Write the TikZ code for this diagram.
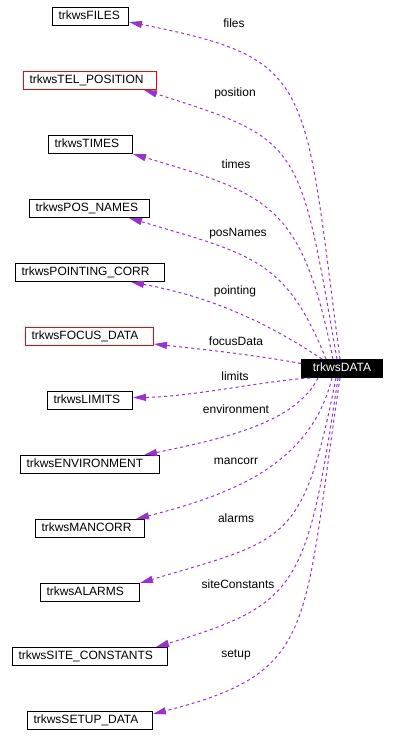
\documentclass[tikz,border=0pt]{standalone}
\usepackage{fontspec}
\setmainfont{Liberation Sans}
\usetikzlibrary{arrows.meta}
\definecolor{edgecol}{RGB}{153,50,204}
\begin{document}
\begin{tikzpicture}[x=1pt,y=-1pt,
  every node/.style={font=\fontsize{12}{14}\selectfont},
  cls/.style={draw=black, line width=1pt, anchor=north west, inner xsep=6pt, inner ysep=0pt,
    minimum height=18pt, text height=9pt, text depth=3pt, align=left, text width=#1},
  redcls/.style={cls=#1, draw=red},
  focal/.style={draw=black, fill=black, text=white, line width=1pt, anchor=north west,
    minimum width=81pt, minimum height=18pt, inner sep=0pt, text height=9pt, text depth=3pt},
  lbl/.style={inner sep=0pt, text height=9pt, text depth=3pt},
  edge/.style={draw=edgecol, dashed, line width=1pt, -{Triangle[length=13pt,width=7pt]}}
]
\useasboundingbox (0,0) rectangle (394,746);

\node[cls=64pt] (files) at (52,7) {trkwsFILES};
\node[redcls=121pt] (tel) at (23,71) {trkwsTEL\_POSITION};
\node[cls=72pt] (times) at (48,135) {trkwsTIMES};
\node[cls=108pt] (posnames) at (29,199) {trkwsPOS\_NAMES};
\node[cls=137pt] (pointing) at (15,263) {trkwsPOINTING\_CORR};
\node[redcls=116pt] (focus) at (25,327) {trkwsFOCUS\_DATA};
\node[cls=73pt] (limits) at (47,391) {trkwsLIMITS};
\node[cls=127pt] (env) at (20,455) {trkwsENVIRONMENT};
\node[cls=97pt] (mancorr) at (35,519) {trkwsMANCORR};
\node[cls=87pt] (alarms) at (40,583) {trkwsALARMS};
\node[cls=143pt] (site) at (12,647) {trkwsSITE\_CONSTANTS};
\node[cls=113pt] (setup) at (27,711) {trkwsSETUP\_DATA};
\node[focal] (data) at (301,359) {trkwsDATA};

\node[lbl] (lfiles) at (234,25) {files};
\node[lbl] (lpos) at (235,94) {position};
\node[lbl] (ltimes) at (236,165) {times};
\node[lbl] (lposnames) at (238,233) {posNames};
\node[lbl] (lpointing) at (235,291) {pointing};
\node[lbl] (lfocus) at (236,342) {focusData};
\node[lbl] (llimits) at (235,377) {limits};
\node[lbl] (lenv) at (236,410) {environment};
\node[lbl] (lmancorr) at (236,461) {mancorr};
\node[lbl] (lalarms) at (236,519) {alarms};
\node[lbl] (lsite) at (238,585) {siteConstants};
\node[lbl] (lsetup) at (236,654) {setup};

\draw[edge] ([xshift=39pt]data.north west) .. controls (303,79) and (316,59) .. ([yshift=4pt]files.south east);
\draw[edge] ([xshift=36pt]data.north west) .. controls (299,141) and (302,140) .. ([xshift=-13pt]tel.south east);
\draw[edge] ([xshift=32pt]data.north west) .. controls (302,206) and (272,195) .. (times.south east);
\draw[edge] ([xshift=25pt]data.north west) .. controls (286,260) and (254,255) .. ([xshift=-21pt]posnames.south east);
\draw[edge] ([xshift=21pt]data.north west) .. controls (272,326) and (217,298) .. ([xshift=-34pt]pointing.south east);
\draw[edge] ([yshift=5pt]data.west) .. controls (250,354) and (190,348) .. ([yshift=2pt]focus.south east);
\draw[edge] ([xshift=9pt]data.south west) .. controls (270,380) and (190,397) .. ([yshift=3pt]limits.east);
\draw[edge] ([xshift=17pt]data.south west) .. controls (296,422) and (227,438) .. ([xshift=-16pt]env.north east);
\draw[edge] ([xshift=31pt]data.south west) .. controls (311,462) and (238,493) .. ([xshift=-9pt]mancorr.north east);
\draw[edge] ([xshift=35pt]data.south west) .. controls (303,544) and (288,539) .. (alarms.north east);
\draw[edge] ([xshift=37pt]data.south west) .. controls (307,587) and (299,604) .. ([xshift=-12pt]site.north east);
\draw[edge] ([xshift=39pt]data.south west) .. controls (302,632) and (318,672) .. ([yshift=-3pt]setup.north east);
\end{tikzpicture}
\end{document}
